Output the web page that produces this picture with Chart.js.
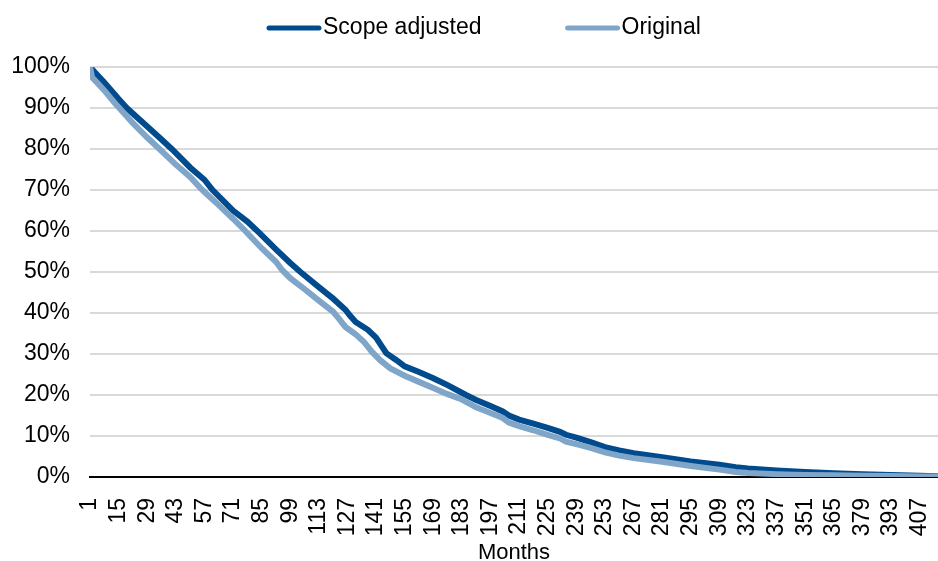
<!DOCTYPE html>
<html>
<head>
<meta charset="utf-8">
<script src="https://cdn.jsdelivr.net/npm/chart.js@4.4.1/dist/chart.umd.min.js"></script>
<style>
    html, body { margin: 0; padding: 0; background: #fff; }
    #wrap { width: 938px; height: 561px; }
</style>
</head>
<body>
<div id="wrap"><canvas id="chart" width="938" height="561"></canvas></div>
<script>
// Data (month, % remaining)
const scopeMonths = [1, 3, 8, 15, 19, 29, 36, 41, 50, 57, 61, 71, 78, 84, 92, 99, 104, 113, 120, 126, 128, 131, 137, 141, 146, 151, 155, 162, 169, 176, 185, 190, 197, 203, 206, 211, 218, 225, 231, 234, 239, 246, 253, 260, 267, 281, 295, 309, 317, 323, 337, 351, 365, 379, 393, 407, 416];
const scopeValues = [100, 98.9, 96.2, 92.2, 90, 85.5, 82.3, 80, 75.5, 72.5, 70, 65, 62.3, 59.5, 55.5, 52.2, 50, 46.3, 43.5, 40.8, 39.5, 37.8, 35.9, 34, 30.2, 28.5, 27, 25.6, 24.1, 22.4, 20, 18.8, 17.3, 16, 15, 14, 13, 12, 11, 10.3, 9.6, 8.5, 7.3, 6.5, 5.8, 4.8, 3.8, 3.0, 2.4, 2.1, 1.6, 1.2, 0.9, 0.7, 0.5, 0.3, 0.2];

const originalMonths = [1, 2, 8, 13, 15, 22, 29, 35, 43, 50, 56, 64, 71, 77, 85, 92, 95, 99, 106, 113, 120, 123, 126, 131, 135, 139, 143, 148, 155, 162, 169, 176, 183, 190, 197, 203, 206, 211, 218, 225, 231, 234, 239, 246, 253, 260, 267, 281, 295, 309, 317, 323, 337, 351, 365, 379, 393, 407, 416];
const originalValues = [100, 97.5, 94.3, 91.3, 90.2, 86.3, 82.8, 80, 76.2, 73.2, 70, 66.3, 63, 60, 55.8, 52.5, 50.5, 48.5, 45.8, 43, 40.3, 38.5, 36.6, 34.8, 33, 30.5, 28.5, 26.5, 24.7, 23.2, 21.7, 20.2, 18.9, 17, 15.6, 14.4, 13.3, 12.4, 11.4, 10.3, 9.4, 8.6, 8, 7.1, 6, 5.2, 4.6, 3.7, 2.7, 1.8, 1.2, 1.0, 0.7, 0.5, 0.4, 0.3, 0.25, 0.15, 0.1];

const tickMonths = [1, 15, 29, 43, 57, 71, 85, 99, 113, 127, 141, 155, 169, 183, 197, 211, 225, 239, 253, 267, 281, 295, 309, 323, 337, 351, 365, 379, 393, 407];
const seriesLabels = ['Scope adjusted', 'Original'];
const seriesColors = ['#004b8d', '#7fa6c9'];

const FONT = '"Liberation Sans", Arial, sans-serif';

function toPoints(months, values) {
    return months.map((m, i) => ({ x: m, y: values[i] }));
}

// Legend drawn above the plot: line sample then label, left to right
const topLegend = {
    id: 'topLegend',
    afterDraw(chart) {
        const ctx = chart.ctx;
        ctx.save();
        ctx.font = '23px ' + FONT;
        ctx.textBaseline = 'middle';
        ctx.textAlign = 'left';
        let x = 266;
        const y = 28;
        seriesLabels.forEach((label, i) => {
            ctx.strokeStyle = seriesColors[i];
            ctx.lineWidth = 5;
            ctx.lineCap = 'round';
            ctx.beginPath();
            ctx.moveTo(x + 3, y);
            ctx.lineTo(x + 53, y);
            ctx.stroke();
            ctx.fillStyle = '#000';
            ctx.fillText(label, x + 57, y);
            x += 57 + ctx.measureText(label).width + 83;
        });
        ctx.restore();
    }
};

const ctx = document.getElementById('chart').getContext('2d');
new Chart(ctx, {
    type: 'line',
    data: {
        datasets: [{
            label: seriesLabels[0],
            data: toPoints(scopeMonths, scopeValues),
            borderColor: seriesColors[0],
            borderWidth: 6,
            pointRadius: 0,
            tension: 0,
            order: 1
        }, {
            label: seriesLabels[1],
            data: toPoints(originalMonths, originalValues),
            borderColor: seriesColors[1],
            borderWidth: 6,
            pointRadius: 0,
            tension: 0,
            order: 0
        }]
    },
    options: {
        responsive: false,
        animation: false,
        layout: { padding: { top: 67, left: 0, right: 0, bottom: 0 } },
        plugins: {
            legend: { display: false },
            tooltip: { enabled: false }
        },
        scales: {
            x: {
                type: 'linear',
                min: 1,
                max: 416,
                afterBuildTicks: (scale) => {
                    scale.ticks = tickMonths.map(v => ({ value: v }));
                },
                afterFit: (scale) => {
                    scale.height = 84;
                    scale.paddingLeft = 0;
                    scale.paddingRight = 0;
                },
                grid: { display: false, drawTicks: false },
                border: { display: true, color: '#000', width: 2 },
                ticks: {
                    autoSkip: false,
                    minRotation: 90,
                    maxRotation: 90,
                    padding: 21,
                    color: '#000',
                    font: { family: FONT, size: 23 }
                },
                title: {
                    display: true,
                    text: 'Months',
                    color: '#000',
                    font: { family: FONT, size: 22 },
                    padding: { top: 0, bottom: -5 }
                }
            },
            y: {
                min: 0,
                max: 100,
                afterFit: (scale) => { scale.width = 90; },
                grid: {
                    drawTicks: false,
                    lineWidth: 2,
                    color: (c) => c.tick && c.tick.value === 0 ? '#000' : '#d9d9d9'
                },
                border: { display: false },
                ticks: {
                    stepSize: 10,
                    padding: 20,
                    color: '#000',
                    font: { family: FONT, size: 23 },
                    callback: (v) => v + '%'
                }
            }
        }
    },
    plugins: [topLegend]
});
</script>
</body>
</html>
